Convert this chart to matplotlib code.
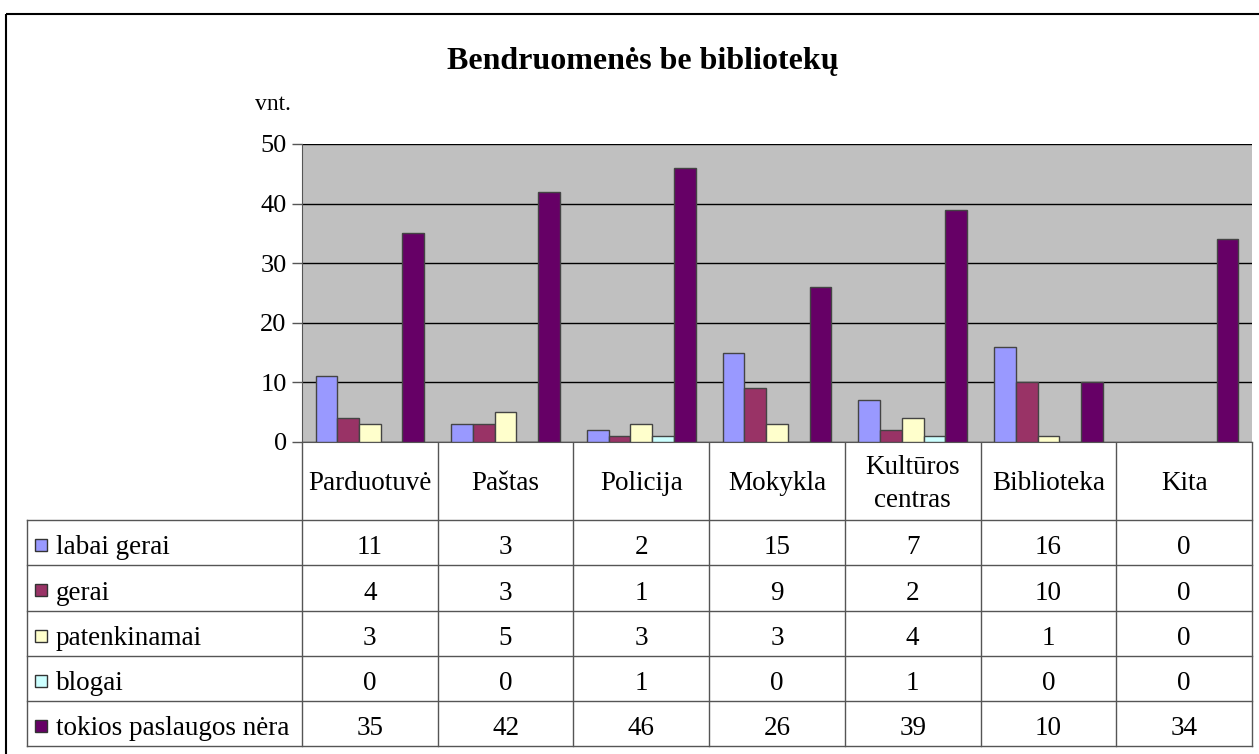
import matplotlib.pyplot as plt
import numpy as np
from matplotlib.patches import Rectangle

plt.rcParams["font.family"] = ["Liberation Serif", "DejaVu Serif"]

# ======================
# DATA
# ======================
categories = ["Parduotuvė", "Paštas", "Policija", "Mokykla",
              "Kultūros\ncentras", "Biblioteka", "Kita"]
series_names = ["labai gerai", "gerai", "patenkinamai", "blogai",
                "tokios paslaugos nėra"]
labai_gerai = [11, 3, 2, 15, 7, 16, 0]
gerai = [4, 3, 1, 9, 2, 10, 0]
patenkinamai = [3, 5, 3, 3, 4, 1, 0]
blogai = [0, 0, 1, 0, 1, 0, 0]
nera = [35, 42, 46, 26, 39, 10, 34]
series = [labai_gerai, gerai, patenkinamai, blogai, nera]
colors = ["#9999FF", "#993366", "#FFFFCC", "#CCFFFF", "#660066"]
yticks = [0, 10, 20, 30, 40, 50]

# ======================
# LAYOUT (pixels)
# ======================
W, H = 1259, 754
PL, PR, PT, PB = 302, 1252, 144, 442
TL = 27
row_y = [520, 565, 611, 656, 701, 746]

fig = plt.figure(figsize=(W / 100, H / 100), dpi=100)

# overlay in pixel coords for frame, table and texts
ov = fig.add_axes([0, 0, 1, 1])
ov.set_xlim(0, W)
ov.set_ylim(H, 0)
ov.axis("off")

ax = fig.add_axes([PL / W, 1 - PB / H, (PR - PL) / W, (PB - PT) / H])
ax.set_facecolor("#C0C0C0")
ax.set_xlim(0, len(categories))
ax.set_ylim(0, 50)
bw = 0.16
x = np.arange(len(categories)) + 0.5
for k, (vals, c) in enumerate(zip(series, colors)):
    ax.bar(x + (k - 2) * bw, vals, bw, color=c, edgecolor="#444444",
           linewidth=1.0, zorder=3)
ax.set_yticks(yticks)
ax.yaxis.grid(True, color="black", linewidth=1.0, zorder=1)
ax.set_yticklabels([str(t) for t in yticks], fontsize=19)
ax.tick_params(axis="y", length=7, width=1, color="#555555", pad=4)
ax.set_xticks(np.arange(len(categories) + 1))
ax.set_xticklabels([])
ax.tick_params(axis="x", length=0)
for s in ["top", "right"]:
    ax.spines[s].set_visible(False)
ax.spines["left"].set_color("#555555")
ax.spines["bottom"].set_color("#555555")

# outer frame
ov.add_patch(Rectangle((6, 14), W + 10, H + 10, fill=False,
                       edgecolor="black", linewidth=1.5))

# title and unit label
ov.text(643, 61, "Bendruomenės be bibliotekų", ha="center", va="center",
        fontsize=23, fontweight="bold")
ov.text(291, 105, "vnt.", ha="right", va="center", fontsize=17)

# ======================
# DATA TABLE
# ======================
cw = (PR - PL) / len(categories)
line_kw = dict(color="#555555", linewidth=1.0)
for j in range(len(categories) + 1):
    ov.plot([PL + j * cw] * 2, [PB, row_y[-1]], **line_kw)
ov.plot([TL, TL], [row_y[0], row_y[-1]], **line_kw)
for yy in row_y:
    ov.plot([TL, PR], [yy, yy], **line_kw)

for j, name in enumerate(categories):
    ov.text(PL + (j + 0.5) * cw, (PB + row_y[0]) / 2 + 3, name, ha="center",
            va="center", fontsize=19.5, linespacing=1.45)

for i, (name, vals, c) in enumerate(zip(series_names, series, colors)):
    yc = (row_y[i] + row_y[i + 1]) / 2
    ov.add_patch(Rectangle((35, yc - 4), 12, 12, facecolor=c,
                           edgecolor="#333333", linewidth=1.0))
    ov.text(56, yc + 5, name, ha="left", va="center", fontsize=19.5)
    for j, v in enumerate(vals):
        ov.text(PL + (j + 0.5) * cw, yc + 5, str(v), ha="center",
                va="center", fontsize=19.5)

fig.savefig("out.png", dpi=100)
